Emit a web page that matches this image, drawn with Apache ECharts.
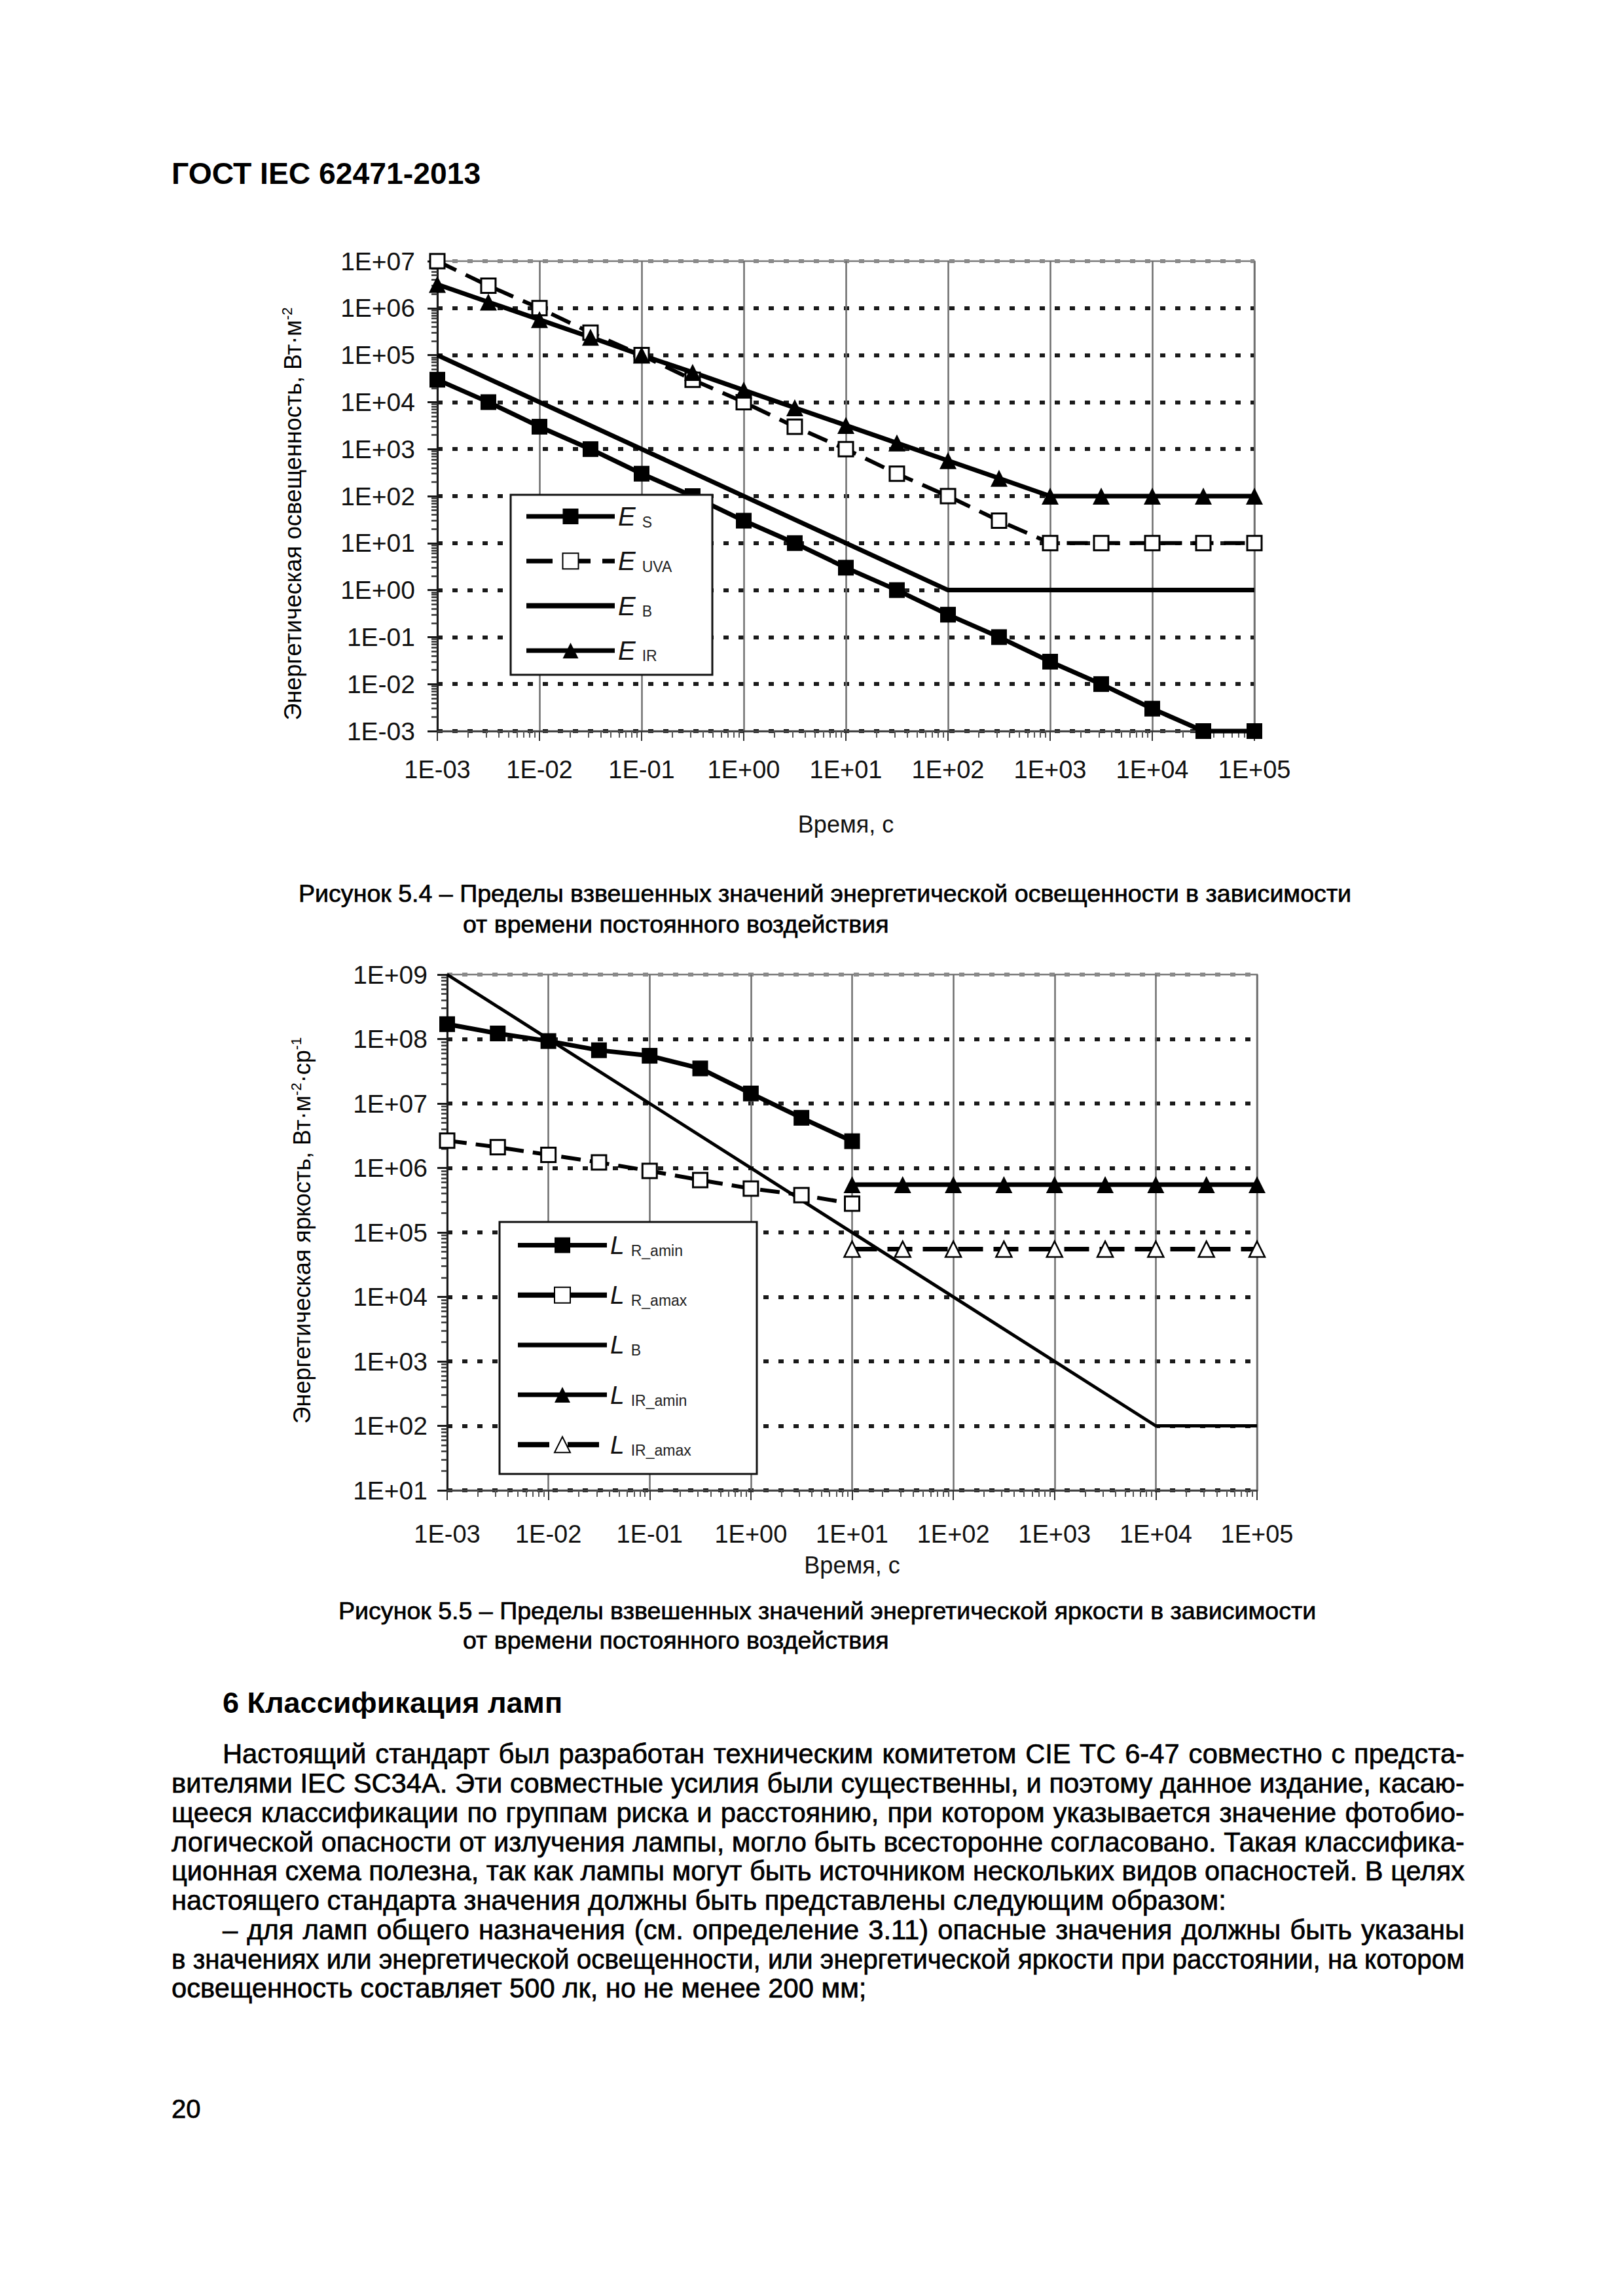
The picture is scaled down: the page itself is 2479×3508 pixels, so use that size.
<!DOCTYPE html>
<html>
<head>
<meta charset="utf-8">
<script src="https://cdn.jsdelivr.net/npm/echarts@6/dist/echarts.min.js"></script>
<style>
  html, body { margin: 0; padding: 0; background: #fff; }
  #page { position: relative; width: 2479px; height: 3508px; background: #fff; overflow: hidden;
          font-family: 'Liberation Sans', Arial, Helvetica, sans-serif; color: #000; }
  #chart { position: absolute; left: 0; top: 0; width: 2479px; height: 3508px; }
  .t { position: absolute; white-space: nowrap; line-height: 44px; -webkit-text-stroke: 0.7px #000; }
  .body { font-size: 41.7px; }
  .cap { font-size: 37.6px; }
  .bold { font-weight: bold; -webkit-text-stroke: 0; }
</style>
</head>
<body>
<div id="page">
  <div id="chart"></div>

  <div class="t bold" style="left:262px; top:240px; font-size:46.3px; line-height:50px;">ГОСТ IEC 62471-2013</div>

  <div class="t cap" style="left:456px; top:1343px;">Рисунок 5.4 – Пределы взвешенных значений энергетической освещенности в зависимости</div>
  <div class="t cap" style="left:707px; top:1390px;">от времени постоянного воздействия</div>

  <div class="t cap" style="left:517px; top:2439px;">Рисунок 5.5 – Пределы взвешенных значений энергетической яркости в зависимости</div>
  <div class="t cap" style="left:707px; top:2484px;">от времени постоянного воздействия</div>

  <div class="t bold" style="left:340px; top:2578px; font-size:45px; line-height:48px;">6 Классификация ламп</div>

  <div class="t body just" data-w="1897" style="left:340px; top:2658px;">Настоящий стандарт был разработан техническим комитетом CIE TC 6-47 совместно с предста-</div>
  <div class="t body just" data-w="1975" style="left:262px; top:2703px;">вителями IEC SC34A. Эти совместные усилия были существенны, и поэтому данное издание, касаю-</div>
  <div class="t body just" data-w="1975" style="left:262px; top:2748px;">щееся классификации по группам риска и расстоянию, при котором указывается значение фотобио-</div>
  <div class="t body just" data-w="1975" style="left:262px; top:2793px;">логической опасности от излучения лампы, могло быть всесторонне согласовано. Такая классифика-</div>
  <div class="t body just" data-w="1975" style="left:262px; top:2837px;">ционная схема полезна, так как лампы могут быть источником нескольких видов опасностей. В целях</div>
  <div class="t body" style="left:262px; top:2882px;">настоящего стандарта значения должны быть представлены следующим образом:</div>
  <div class="t body just" data-w="1897" style="left:340px; top:2927px;">– для ламп общего назначения (см. определение 3.11) опасные значения должны быть указаны</div>
  <div class="t body just" data-w="1975" style="left:262px; top:2972px;">в значениях или энергетической освещенности, или энергетической яркости при расстоянии, на котором</div>
  <div class="t body" style="left:262px; top:3016px;">освещенность составляет 500 лк, но не менее 200 мм;</div>

  <div class="t body" style="left:262px; top:3200px; font-size:40px;">20</div>
</div>

<script>
// Figures 5.4 and 5.5 — log-log exposure limits vs. time.

const FONT = "'Liberation Sans', Arial, Helvetica, sans-serif";

// tick labels
const xTickLabels = ['1E-03', '1E-02', '1E-01', '1E+00', '1E+01', '1E+02', '1E+03', '1E+04', '1E+05'];
const yTickLabels1 = ['1E-03', '1E-02', '1E-01', '1E+00', '1E+01', '1E+02', '1E+03', '1E+04', '1E+05', '1E+06', '1E+07'];
const yTickLabels2 = ['1E+01', '1E+02', '1E+03', '1E+04', '1E+05', '1E+06', '1E+07', '1E+08', '1E+09'];

// Fig 5.4 — irradiance, W/m2
const t1 = [0.001, 0.00316, 0.01, 0.0316, 0.1, 0.316, 1, 3.16, 10, 31.6, 100, 316, 1000, 3162, 10000, 31623, 100000];
const eS = [30000, 10000, 3000, 1000, 300, 100, 30, 10, 3, 1, 0.3, 0.1, 0.03, 0.01, 0.003, 0.001, 0.001];
const eUVA = [1e7, 3e6, 1e6, 3e5, 1e5, 3e4, 1e4, 3000, 1000, 300, 100, 30, 10, 10, 10, 10, 10];
const eIR = [3.2e6, 1.35e6, 5.7e5, 2.4e5, 1e5, 4.3e4, 1.8e4, 7600, 3200, 1350, 570, 240, 100, 100, 100, 100, 100];
const tB1 = [0.001, 100, 100000];
const eB = [1e5, 1, 1];

// Fig 5.5 — radiance, W/(m2·sr)
const t2 = [0.001, 0.00316, 0.01, 0.0316, 0.1, 0.316, 1, 3.16, 10];
const lRamin = [1.7e8, 1.22e8, 9.3e7, 6.7e7, 5.5e7, 3.5e7, 1.43e7, 6e6, 2.6e6];
const lRamax = [2.66e6, 2.1e6, 1.6e6, 1.22e6, 9e5, 6.5e5, 4.8e5, 3.8e5, 2.8e5];
const tIR2 = [10, 31.6, 100, 316, 1000, 3162, 10000, 31623, 100000];
const lIRamin = [5.5e5, 5.5e5, 5.5e5, 5.5e5, 5.5e5, 5.5e5, 5.5e5, 5.5e5, 5.5e5];
const lIRamax = [5.5e4, 5.5e4, 5.5e4, 5.5e4, 5.5e4, 5.5e4, 5.5e4, 5.5e4, 5.5e4];
const tB2 = [0.001, 10000, 100000];
const lB = [1e9, 100, 100];

const subs1 = { E_S: 'S', E_UVA: 'UVA', E_B: 'B', E_IR: 'IR' };
const subs2 = { L_R_amin: 'R_amin', L_R_amax: 'R_amax', L_B: 'B', L_IR_amin: 'IR_amin', L_IR_amax: 'IR_amax' };

// justify body lines by hand: stretch word gaps, or squeeze a line that is too long
function justifyLines() {
  document.querySelectorAll('.just').forEach((el) => {
    el.style.wordSpacing = '';
    el.style.transform = '';
    const target = parseFloat(el.dataset.w);
    const natural = el.getBoundingClientRect().width;
    const gaps = (el.textContent.match(/ /g) || []).length;
    if (natural <= target) {
      el.style.wordSpacing = ((target - natural) / gaps) + 'px';
    } else {
      el.style.transformOrigin = '0 0';
      el.style.transform = 'scaleX(' + (target / natural) + ')';
    }
  });
}
justifyLines();
if (document.fonts && document.fonts.ready) document.fonts.ready.then(justifyLines);

function zip(xs, ys) { return xs.map((x, i) => [x, ys[i]]); }

function minorTicks(from, to) {
  const out = [];
  for (let e = from; e < to; e++) {
    for (let k = 2; k <= 9; k++) out.push(Number((k * Math.pow(10, e)).toPrecision(3)));
  }
  return out;
}

function lbl(arr, off) {
  return (v) => arr[Math.round(Math.log10(v)) + off] || '';
}

function mainX(grid, nameGap, labelMargin) {
  return {
    type: 'log', gridIndex: grid, min: 0.001, max: 100000, splitNumber: 8,
    name: 'Время, с', nameLocation: 'middle', nameGap,
    nameTextStyle: { fontFamily: FONT, fontSize: 36, color: '#111' },
    axisLine: { show: true, lineStyle: { color: '#444', width: 3 } },
    axisTick: { show: true, inside: false, length: 15, lineStyle: { color: '#333', width: 2 } },
    axisLabel: { formatter: lbl(xTickLabels, 3), fontFamily: FONT, fontSize: 38, color: '#111', margin: labelMargin },
    splitLine: { show: true, lineStyle: { color: '#6e6e6e', width: 2.5 } },
    minorTick: { show: false }, minorSplitLine: { show: false },
  };
}

function minorX(grid) {
  return {
    type: 'log', gridIndex: grid, min: 0.001, max: 100000, position: 'bottom',
    axisLine: { show: false }, axisLabel: { show: false }, splitLine: { show: false },
    axisTick: { show: true, length: 10, customValues: minorTicks(-3, 5), lineStyle: { color: '#555', width: 2 } },
  };
}

function mainY(grid, min, max, n, labels, off, labelMargin) {
  const colors = [];
  for (let i = 0; i < n; i++) colors.push('#1a1a1a');
  colors.push('#8a8a8a');
  return {
    type: 'log', gridIndex: grid, min, max, splitNumber: n, interval: 1,
    axisLine: { show: true, lineStyle: { color: '#1a1a1a', width: 3 } },
    axisTick: { show: true, length: 15, lineStyle: { color: '#1a1a1a', width: 3 } },
    axisLabel: { formatter: lbl(labels, off), fontFamily: FONT, fontSize: 39, color: '#111', margin: labelMargin },
    splitLine: { show: true, lineStyle: { color: colors, width: 6, type: [8, 15] } },
  };
}

function minorY(grid, min, max, from, to) {
  return {
    type: 'log', gridIndex: grid, min, max, position: 'left',
    axisLine: { show: false }, axisLabel: { show: false }, splitLine: { show: false },
    axisTick: { show: true, length: 9, customValues: minorTicks(from, to), lineStyle: { color: '#333', width: 2.5 } },
  };
}

function legendRich(italicSize, subSize) {
  return {
    e: { fontFamily: FONT, fontSize: italicSize, fontStyle: 'italic', lineHeight: 40, color: '#111' },
    s: { fontFamily: FONT, fontSize: subSize, lineHeight: 22, verticalAlign: 'bottom', padding: [0, 0, 0, 10], color: '#222' },
  };
}

const solid = (w) => ({ color: '#000', width: w, type: 'solid' });
const filledSq = { symbol: 'rect', symbolSize: 24, itemStyle: { color: '#000' } };
const openSq = { symbol: 'rect', symbolSize: 22, itemStyle: { color: '#fff', borderColor: '#000', borderWidth: 3 } };
const filledTri = { symbol: 'triangle', symbolSize: 26, itemStyle: { color: '#000' } };
const openTri = { symbol: 'triangle', symbolSize: 24, itemStyle: { color: '#fff', borderColor: '#000', borderWidth: 2.5 } };

function line(name, xi, data, style, marker) {
  return Object.assign({
    name, type: 'line', xAxisIndex: xi, yAxisIndex: xi, data, clip: false,
    lineStyle: style, showSymbol: !!marker, symbol: marker ? undefined : 'none',
    itemStyle: { color: '#000' },
    animation: false, emphasis: { disabled: true }, z: 2,
  }, marker || {});
}

// legend entry: line drawn at the series' own width, hidden symbol where the series has none
function legItem(name, width, dash, noSymbol) {
  const it = { name, lineStyle: { width, color: '#000', type: dash || 'solid' } };
  if (noSymbol) it.itemStyle = { opacity: 0 };
  return it;
}

const chart = echarts.init(document.getElementById('chart'), null, { renderer: 'svg' });

const yTitle1 = '{t|Энергетическая освещенность, Вт·м}{p|-2}';
const yTitle2 = '{t|Энергетическая яркость, Вт·м}{p|-2}{t|·ср}{p|-1}';
const titleRich = {
  t: { fontFamily: FONT, fontSize: 36, lineHeight: 40, color: '#111' },
  p: { fontFamily: FONT, fontSize: 22, lineHeight: 22, verticalAlign: 'top', color: '#111' },
};

chart.setOption({
  animation: false,
  grid: [
    { left: 668, top: 399, width: 1248, height: 718, show: true, borderColor: '#7a7a7a', borderWidth: 2.5, backgroundColor: 'transparent' },
    { left: 683, top: 1489, width: 1237, height: 788, show: true, borderColor: '#7a7a7a', borderWidth: 2.5, backgroundColor: 'transparent' },
  ],
  xAxis: [mainX(0, 124, 40), minorX(0), mainX(1, 96, 48), minorX(1)],
  yAxis: [
    mainY(0, 0.001, 1e7, 10, yTickLabels1, 3, 34), minorY(0, 0.001, 1e7, -3, 7),
    mainY(1, 10, 1e9, 8, yTickLabels2, -1, 30), minorY(1, 10, 1e9, 1, 9),
  ],
  legend: [
    {
      orient: 'vertical', left: 800, top: 769, padding: 0,
      itemWidth: 135, itemHeight: 30, itemGap: 28.3, selectedMode: false,
      data: [
        legItem('E_S', 7), legItem('E_UVA', 7, [40, 18]), legItem('E_B', 8, null, true), legItem('E_IR', 7),
      ],
      formatter: (n) => '{e|E}{s|' + subs1[n] + '}',
      textStyle: { rich: legendRich(40, 23) },
    },
    {
      orient: 'vertical', left: 787, top: 1883, padding: 0,
      itemWidth: 136, itemHeight: 30, itemGap: 36.7, selectedMode: false,
      data: [
        legItem('L_R_amin', 7), legItem('L_R_amax', 8), legItem('L_B', 7, null, true),
        legItem('L_IR_amin', 7), legItem('L_IR_amax', 8, [48, 28]),
      ],
      formatter: (n) => '{e|L}{s|' + subs2[n] + '}',
      textStyle: { rich: legendRich(39, 23) },
    },
  ],
  graphic: [
    { type: 'rect', z: 3, shape: { x: 780, y: 756, width: 308, height: 275 }, style: { fill: '#fff', stroke: '#111', lineWidth: 3 } },
    { type: 'rect', z: 3, shape: { x: 763, y: 1867, width: 393, height: 385 }, style: { fill: '#fff', stroke: '#111', lineWidth: 3 } },
    { type: 'text', z: 5, x: 447, y: 785, rotation: Math.PI / 2,
      style: { text: yTitle1, rich: titleRich, align: 'center', verticalAlign: 'middle' } },
    { type: 'text', z: 5, x: 461, y: 1880, rotation: Math.PI / 2,
      style: { text: yTitle2, rich: titleRich, align: 'center', verticalAlign: 'middle' } },
  ],
  series: [
    line('E_S', 0, zip(t1, eS), solid(7), filledSq),
    line('E_UVA', 0, zip(t1, eUVA), { color: '#000', width: 6, type: [32, 16] }, openSq),
    line('E_B', 0, zip(tB1, eB), solid(7), null),
    line('E_IR', 0, zip(t1, eIR), solid(7), filledTri),

    line('L_R_amin', 2, zip(t2, lRamin), solid(7), filledSq),
    line('L_R_amax', 2, zip(t2, lRamax), { color: '#000', width: 6, type: [30, 14] }, openSq),
    line('L_B', 2, zip(tB2, lB), solid(5), null),
    line('L_IR_amin', 2, zip(tIR2, lIRamin), solid(7), filledTri),
    line('L_IR_amax', 2, zip(tIR2, lIRamax), { color: '#000', width: 7, type: [38, 16] }, openTri),
  ],
});
</script>
</body>
</html>
